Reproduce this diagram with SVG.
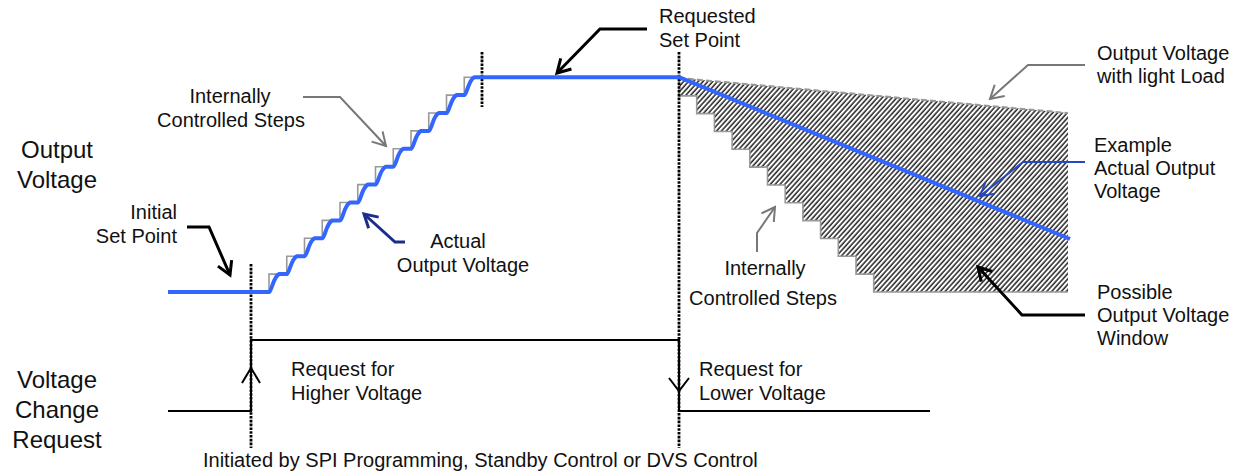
<svg xmlns="http://www.w3.org/2000/svg" width="1239" height="472" viewBox="0 0 1239 472">
<style>
text{font-family:"Liberation Sans",Arial,sans-serif;fill:#111}
.big{font-size:24px}
.lbl{font-size:20px}
.dot{stroke:#000;stroke-width:2.8;stroke-dasharray:2.6 1.2;fill:none}
.blue{stroke:#3366ff;stroke-width:4;fill:none;stroke-linejoin:round}
.gstep{stroke:#999;stroke-width:1.6;fill:none}
.sig{stroke:#000;stroke-width:2;fill:none}
.ak{stroke:#000;stroke-width:3;fill:none}
.ag{stroke:#777;stroke-width:2;fill:none}
.an{stroke:#1c2e8c;stroke-width:3;fill:none}
.ab{stroke:#2448c8;stroke-width:2;fill:none}
</style>
<defs>
<pattern id="hatch" patternUnits="userSpaceOnUse" width="3.6" height="10" patternTransform="rotate(42)">
<line x1="1" y1="-1" x2="1" y2="11" stroke="#000" stroke-width="1.3"/>
</pattern>
<marker id="mk" viewBox="-16 -10 20 20" markerWidth="20" markerHeight="20" refX="0" refY="0" orient="auto" markerUnits="userSpaceOnUse"><path d="M-13 -7.5 L0 0 L-13 7.5" fill="none" stroke="#000" stroke-width="3"/></marker>
<marker id="mg" viewBox="-16 -10 20 20" markerWidth="20" markerHeight="20" refX="0" refY="0" orient="auto" markerUnits="userSpaceOnUse"><path d="M-13 -7.5 L0 0 L-13 7.5" fill="none" stroke="#777" stroke-width="2"/></marker>
<marker id="mn" viewBox="-16 -10 20 20" markerWidth="20" markerHeight="20" refX="0" refY="0" orient="auto" markerUnits="userSpaceOnUse"><path d="M-13 -7.5 L0 0 L-13 7.5" fill="none" stroke="#1c2e8c" stroke-width="3"/></marker>
<marker id="mb" viewBox="-16 -10 20 20" markerWidth="20" markerHeight="20" refX="0" refY="0" orient="auto" markerUnits="userSpaceOnUse"><path d="M-13 -7.5 L0 0 L-13 7.5" fill="none" stroke="#2448c8" stroke-width="2"/></marker>
</defs>

<g id="window">
<path d="M679 78 L1068 113 L1068 292 L873.7 292 V274.17 H856 V256.3 H838.3 V238.5 H820.6 V220.7 H802.9 V202.8 H785.2 V185 H767.5 V167.2 H749.8 V149.3 H732.1 V131.5 H714.4 V113.7 H696.7 V95.8 H679 Z" fill="url(#hatch)"/>
<path d="M679 78 L1068 113" stroke="#999" stroke-width="2" stroke-dasharray="6 3" fill="none"/>
<path class="gstep" d="M679 78 v17.83 h17.7 v17.83 h17.7 v17.83 h17.7 v17.83 h17.7 v17.83 h17.7 v17.83 h17.7 v17.83 h17.7 v17.83 h17.7 v17.83 h17.7 v17.83 h17.7 v17.83 h17.7 v17.83 H1068"/>
</g>

<g id="guides">
<line class="dot" x1="251" y1="264" x2="251" y2="448"/>
<line class="dot" x1="482" y1="52" x2="482" y2="107"/>
<line class="dot" x1="679" y1="52" x2="679" y2="448"/>
</g>

<g id="output-voltage">
<path class="gstep" d="M269 292 v-17.9 h17.75 v-17.9 h17.75 v-17.9 h17.75 v-17.9 h17.75 v-17.9 h17.75 v-17.9 h17.75 v-17.9 h17.75 v-17.9 h17.75 v-17.9 h17.75 v-17.9 h17.75 v-17.9 h17.75 v-17.9 h10"/>
<path class="blue" d="M168 292 H269 c3 -1 4 -15 10 -17.9 h7.75 c3 -1 4 -15 10 -17.9 h7.75 c3 -1 4 -15 10 -17.9 h7.75 c3 -1 4 -15 10 -17.9 h7.75 c3 -1 4 -15 10 -17.9 h7.75 c3 -1 4 -15 10 -17.9 h7.75 c3 -1 4 -15 10 -17.9 h7.75 c3 -1 4 -15 10 -17.9 h7.75 c3 -1 4 -15 10 -17.9 h7.75 c3 -1 4 -15 10 -17.9 h7.75 c3 -1 4 -15 10 -17.9 h7.75 c3 -1 4 -15 10 -17.9 H679 L1070 239"/>
</g>

<g id="request-signal">
<path class="sig" d="M168 411 H251 V340 H679 V411 H930"/>
<path class="sig" d="M242 383 L251 368 L260 383"/>
<path class="sig" d="M669 378 L679 391 L689 378"/>
</g>

<g id="connectors">
<path class="ak" marker-end="url(#mk)" d="M187 227 L209 227 L230 275"/>
<path class="ag" marker-end="url(#mg)" d="M303 97 L340 97 L386 146"/>
<path class="an" marker-end="url(#mn)" d="M405 242 L395 242 L364 214"/>
<path class="ak" marker-end="url(#mk)" d="M647 29 L600 29 L557 73"/>
<path class="ag" marker-end="url(#mg)" d="M1085 65 L1028 65 L990 99"/>
<path class="ab" marker-end="url(#mb)" d="M1085 162 L1023 162 L980 196"/>
<path class="ak" marker-end="url(#mk)" d="M1085 315 L1022 315 L978 267"/>
<path class="ag" marker-end="url(#mg)" d="M757 252 L757 233 L775 207"/>
</g>

<g id="label-output-voltage"><text class="big" x="57" y="158" text-anchor="middle">Output</text><text class="big" x="57" y="188" text-anchor="middle">Voltage</text></g>
<g id="label-voltage-change"><text class="big" x="57" y="388" text-anchor="middle">Voltage</text><text class="big" x="57" y="418" text-anchor="middle">Change</text><text class="big" x="57" y="448" text-anchor="middle">Request</text></g>
<g id="label-initial"><text class="lbl" x="177" y="219" text-anchor="end">Initial</text><text class="lbl" x="177" y="243" text-anchor="end">Set Point</text></g>
<g id="label-steps-up"><text class="lbl" x="230" y="103" text-anchor="middle">Internally</text><text class="lbl" x="231" y="127" text-anchor="middle">Controlled Steps</text></g>
<g id="label-actual"><text class="lbl" x="458" y="248" text-anchor="middle">Actual</text><text class="lbl" x="463" y="272" text-anchor="middle">Output Voltage</text></g>
<g id="label-requested"><text class="lbl" x="659" y="23">Requested</text><text class="lbl" x="659" y="47">Set Point</text></g>
<g id="label-light-load"><text class="lbl" x="1097" y="60">Output Voltage</text><text class="lbl" x="1097" y="83">with light Load</text></g>
<g id="label-example"><text class="lbl" x="1094" y="152">Example</text><text class="lbl" x="1094" y="175">Actual Output</text><text class="lbl" x="1094" y="198">Voltage</text></g>
<g id="label-steps-down"><text class="lbl" x="765" y="275" text-anchor="middle">Internally</text><text class="lbl" x="763" y="305" text-anchor="middle">Controlled Steps</text></g>
<g id="label-window"><text class="lbl" x="1097" y="299">Possible</text><text class="lbl" x="1097" y="322">Output Voltage</text><text class="lbl" x="1097" y="345">Window</text></g>
<g id="label-higher"><text class="lbl" x="291" y="376">Request for</text><text class="lbl" x="291" y="400">Higher Voltage</text></g>
<g id="label-lower"><text class="lbl" x="699" y="376">Request for</text><text class="lbl" x="699" y="400">Lower Voltage</text></g>
<g id="label-initiated"><text class="lbl" x="203" y="467">Initiated by SPI Programming, Standby Control or DVS Control</text></g>
</svg>
